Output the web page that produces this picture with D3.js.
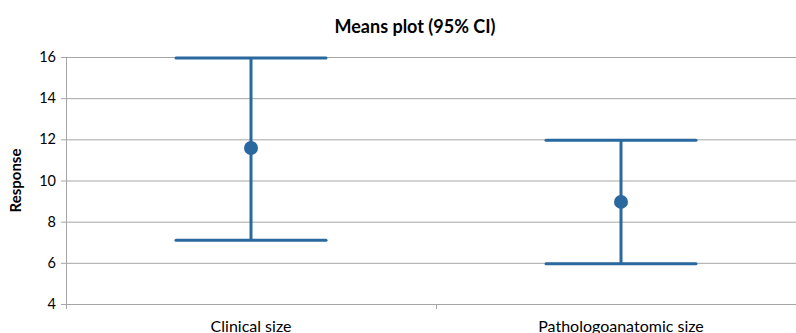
<!DOCTYPE html>
<html>
<head>
<meta charset="utf-8">
<script src="https://cdn.jsdelivr.net/npm/d3@7"></script>
<style>
  body { margin: 0; background: #fff; }
  svg { display: block; font-family: Lato, "Open Sans", sans-serif; }
</style>
</head>
<body>
<div id="chart"></div>
<script>
// Means plot data
const categories = ["Clinical size", "Pathologoanatomic size"]
const means = [11.58, 8.96]
const lower = [7.1, 5.95]
const upper = [15.95, 11.95]
const yTicks = [4, 6, 8, 10, 12, 14, 16]

const width = 796, height = 333
const margin = {top: 57, right: -10, bottom: 29, left: 66}

const svg = d3.select("#chart").append("svg")
  .attr("width", width)
  .attr("height", height)

const x = d3.scaleBand()
  .domain(categories)
  .range([margin.left, width - margin.right])

const y = d3.scaleLinear()
  .domain([4, 16])
  .range([height - margin.bottom, margin.top])

// gridlines
svg.append("g")
  .selectAll("line")
  .data(yTicks)
  .join("line")
  .attr("x1", margin.left - 5)
  .attr("x2", width)
  .attr("y1", d => y(d) + 0.5)
  .attr("y2", d => y(d) + 0.5)
  .attr("stroke", "#a6a6a6")
  .attr("stroke-width", 1)

// y axis line
svg.append("line")
  .attr("x1", margin.left + 0.5).attr("x2", margin.left + 0.5)
  .attr("y1", y(16)).attr("y2", y(4) + 5)
  .attr("stroke", "#a6a6a6")

// category tick between bands
svg.append("g")
  .selectAll("line")
  .data(categories.slice(1))
  .join("line")
  .attr("x1", d => x(d) + 0.5).attr("x2", d => x(d) + 0.5)
  .attr("y1", y(4)).attr("y2", y(4) + 5)
  .attr("stroke", "#a6a6a6")

// y tick labels
svg.append("g")
  .selectAll("text")
  .data(yTicks)
  .join("text")
  .attr("x", margin.left - 10)
  .attr("y", d => y(d))
  .attr("dy", "0.35em")
  .attr("text-anchor", "end")
  .style("font-size", "14.5px")
  .style("fill", "#000")
  .text(d => d)

// category labels
svg.append("g")
  .selectAll("text")
  .data(categories)
  .join("text")
  .attr("x", d => x(d) + x.bandwidth() / 2)
  .attr("y", y(4) + 28)
  .attr("text-anchor", "middle")
  .style("font-size", "16px")
  .text(d => d)

// title
svg.append("text")
  .attr("x", 415)
  .attr("y", 33)
  .attr("text-anchor", "middle")
  .style("font-size", "18px")
  .style("font-weight", "700")
  .text("Means plot (95% CI)")

// y label
svg.append("text")
  .attr("transform", `translate(21, ${(y(4) + y(16)) / 2}) rotate(-90)`)
  .attr("text-anchor", "middle")
  .style("font-size", "15px")
  .style("font-weight", "700")
  .text("Response")

const color = "#2a699f"
const capHalf = 75
const cx = i => x(categories[i]) + x.bandwidth() / 2

const g = svg.append("g")
  .selectAll("g")
  .data(categories.map((c, i) => i))
  .join("g")

g.append("line")
  .attr("x1", cx).attr("x2", cx)
  .attr("y1", i => y(upper[i])).attr("y2", i => y(lower[i]))
  .attr("stroke", color).attr("stroke-width", 3)

g.append("line")
  .attr("x1", i => cx(i) - capHalf).attr("x2", i => cx(i) + capHalf)
  .attr("y1", i => y(upper[i])).attr("y2", i => y(upper[i]))
  .attr("stroke", color).attr("stroke-width", 3).attr("stroke-linecap", "round")

g.append("line")
  .attr("x1", i => cx(i) - capHalf).attr("x2", i => cx(i) + capHalf)
  .attr("y1", i => y(lower[i])).attr("y2", i => y(lower[i]))
  .attr("stroke", color).attr("stroke-width", 3).attr("stroke-linecap", "round")

g.append("circle")
  .attr("cx", cx)
  .attr("cy", i => y(means[i]))
  .attr("r", 7)
  .attr("fill", color)
</script>
</body>
</html>
